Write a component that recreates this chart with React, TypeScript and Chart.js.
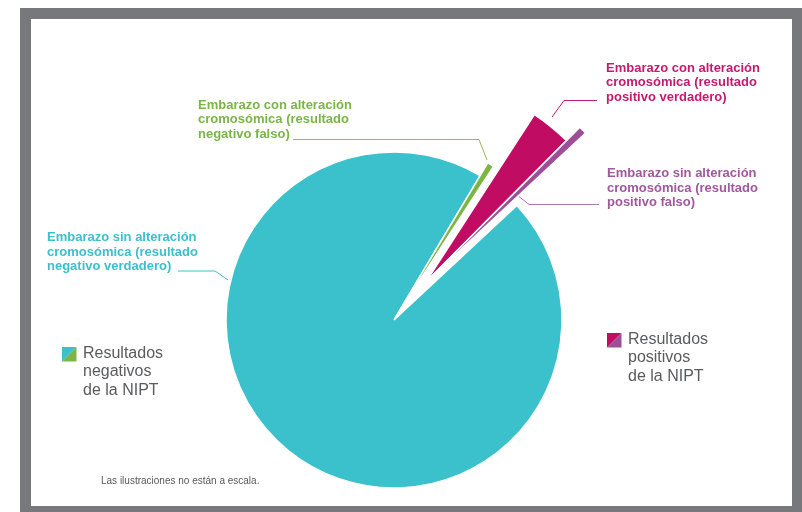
import React, { useEffect, useRef } from 'react';
import { Chart, registerables } from 'chart.js';

Chart.register(...registerables);

// ---- data ----
const categories = [
  'Embarazo sin alteración cromosómica (resultado negativo verdadero)',
  'Embarazo con alteración cromosómica (resultado negativo falso)',
  'Embarazo con alteración cromosómica (resultado positivo verdadero)',
  'Embarazo sin alteración cromosómica (resultado positivo falso)',
];
// illustrative shares (the source states the drawing is not to scale)
const values = [95.5, 0.6, 3.3, 0.6];
const labelLines = [
  ['Embarazo sin alteración', 'cromosómica (resultado', 'negativo verdadero)'],
  ['Embarazo con alteración', 'cromosómica (resultado', 'negativo falso)'],
  ['Embarazo con alteración', 'cromosómica (resultado', 'positivo verdadero)'],
  ['Embarazo sin alteración', 'cromosómica (resultado', 'positivo falso)'],
];
const groupLabels = [
  ['Resultados', 'negativos', 'de la NIPT'],
  ['Resultados', 'positivos', 'de la NIPT'],
];
const groupMembers = [
  [0, 1],
  [2, 3],
];
const footnote = 'Las ilustraciones no están a escala.';

// ---- styles ----
const sliceColors = ['#3bc1cb', '#7db543', '#c10c64', '#9c4f97'];
const textColors = ['#3cc0cb', '#7ab547', '#c51a6f', '#a0599c'];
const leaderColors = ['#3cc0cb', '#8dbb55', '#c51a6f', '#b078ad'];
const sliceRadius = [168, 180, 199, 218];
const sliceExplode = [0, 3, 50, 50];
const FRAME_X = 31;
const FRAME_Y = 19;
const FONT = '"Liberation Sans", Arial, Helvetica, sans-serif';

const shapePlugin = {
  id: 'shapePlugin',
  afterDatasetsUpdate(chart: any) {
    const arcs = chart.getDatasetMeta(0).data as any[];
    if (!arcs.length) return;
    arcs.forEach((arc, i) => {
      arc.outerRadius = sliceRadius[i];
      const group = groupMembers.find((g) => g.includes(i)) || [i];
      const isGroupExplode = group.length > 1 && sliceExplode[group[0]] === sliceExplode[group[group.length - 1]] && sliceExplode[i] > 10;
      const a = isGroupExplode
        ? (arcs[group[0]].startAngle + arcs[group[group.length - 1]].endAngle) / 2
        : (arc.startAngle + arc.endAngle) / 2;
      arc.x = arc.x + Math.cos(a) * sliceExplode[i];
      arc.y = arc.y + Math.sin(a) * sliceExplode[i];
    });
  },
};

// text blocks & leaders (page coordinates)
const labelPos = [
  { x: 47, y: 241 },
  { x: 198, y: 108.5 },
  { x: 606, y: 71.5 },
  { x: 607, y: 177 },
];
const leaders: number[][][] = [
  [[178, 271], [215, 271], [228, 280]],
  [[293, 139.5], [479, 139.5], [487, 160]],
  [[597, 100.5], [564, 100.5], [552, 117]],
  [[599, 204.5], [529, 204.5], [519, 196.5]],
];
const legendPos = [
  { x: 62, y: 347, tx: 83, ty: 357.5 },
  { x: 607, y: 333, tx: 628, ty: 343.5 },
];

const annotationPlugin = {
  id: 'annotationPlugin',
  afterDraw(chart: any) {
    const ctx = chart.ctx as CanvasRenderingContext2D;
    ctx.save();
    ctx.translate(-FRAME_X, -FRAME_Y);
    // leaders
    leaders.forEach((pts, i) => {
      ctx.beginPath();
      ctx.strokeStyle = leaderColors[i];
      ctx.lineWidth = 1;
      pts.forEach(([x, y], k) => (k ? ctx.lineTo(x, y) : ctx.moveTo(x, y)));
      ctx.stroke();
    });
    // labels
    ctx.textBaseline = 'alphabetic';
    ctx.textAlign = 'left';
    ctx.font = `bold 13px ${FONT}`;
    labelLines.forEach((lines, i) => {
      ctx.fillStyle = textColors[i];
      lines.forEach((ln, k) => ctx.fillText(ln, labelPos[i].x, labelPos[i].y + k * 14.5));
    });
    // group legends
    groupLabels.forEach((lines, g) => {
      const p = legendPos[g];
      const s = 14.5;
      const [a, b] = groupMembers[g];
      ctx.fillStyle = sliceColors[a];
      ctx.beginPath();
      ctx.moveTo(p.x, p.y);
      ctx.lineTo(p.x + s, p.y);
      ctx.lineTo(p.x, p.y + s);
      ctx.closePath();
      ctx.fill();
      ctx.fillStyle = sliceColors[b];
      ctx.beginPath();
      ctx.moveTo(p.x + s, p.y);
      ctx.lineTo(p.x + s, p.y + s);
      ctx.lineTo(p.x, p.y + s);
      ctx.closePath();
      ctx.fill();
      ctx.fillStyle = '#5a5b5d';
      ctx.font = `16px ${FONT}`;
      lines.forEach((ln, k) => ctx.fillText(ln, p.tx, p.ty + k * 18.6));
    });
    // footnote
    ctx.fillStyle = '#58595b';
    ctx.font = `10px ${FONT}`;
    ctx.fillText(footnote, 101, 484);
    ctx.restore();
  },
};

export default function App() {
  const ref = useRef<HTMLCanvasElement | null>(null);
  useEffect(() => {
    document.body.style.overflow = 'hidden';
    document.documentElement.style.overflow = 'hidden';
    if (!ref.current) return;
    const chart = new Chart(ref.current, {
      type: 'pie',
      data: {
        labels: categories,
        datasets: [
          {
            data: values,
            backgroundColor: sliceColors,
            borderColor: '#ffffff',
            borderWidth: 1.5,
          },
        ],
      },
      options: {
        responsive: false,
        animation: false,
        events: [],
        rotation: 47,
        radius: 168,
        layout: { padding: { left: 0, right: 35, top: 115, bottom: 0 } },
        plugins: {
          legend: { display: false },
          tooltip: { enabled: false },
        },
      } as any,
      plugins: [shapePlugin, annotationPlugin],
    });
    return () => chart.destroy();
  }, []);
  return (
    <div
      style={{
        position: 'fixed',
        left: 20,
        top: 8,
        width: 782,
        height: 504,
        boxSizing: 'border-box',
        borderStyle: 'solid',
        borderColor: '#77787b',
        borderWidth: '11px 10px 6px 11px',
        background: '#ffffff',
      }}
    >
      <canvas ref={ref} width={761} height={487} style={{ display: 'block', width: 761, height: 487 }} />
    </div>
  );
}
